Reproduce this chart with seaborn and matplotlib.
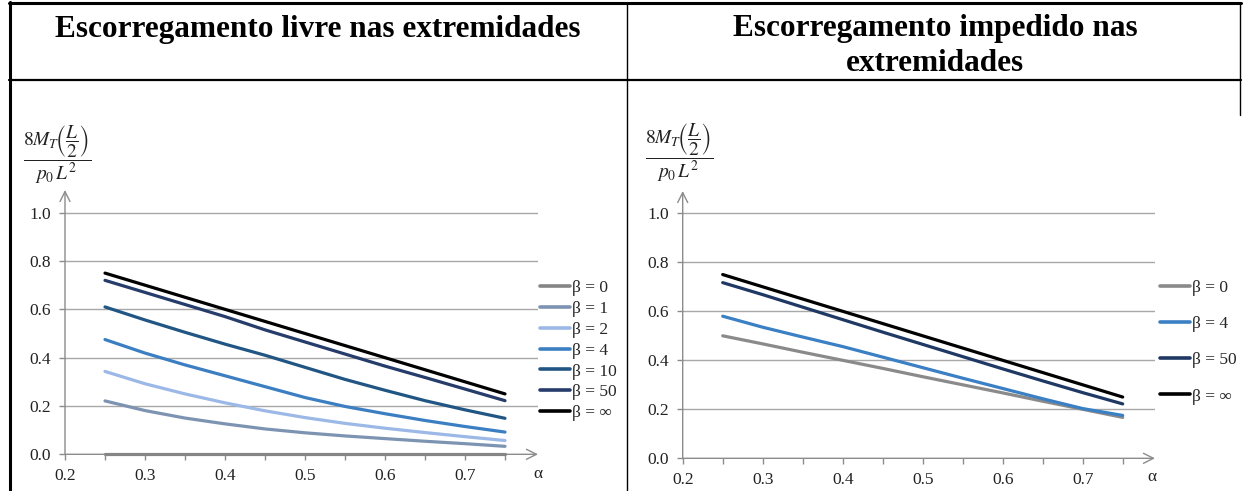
import numpy as np
import pandas as pd
import matplotlib
matplotlib.use("Agg")
import matplotlib.pyplot as plt
from matplotlib.lines import Line2D
import seaborn as sns

# ---------------- data ----------------
alpha = [0.25, 0.30, 0.35, 0.40, 0.45, 0.50, 0.55, 0.60, 0.65, 0.70, 0.75]

left_labels = ["β = 0", "β = 1", "β = 2", "β = 4", "β = 10", "β = 50", "β = ∞"]
left_b0 = [0.0, 0.0, 0.0, 0.0, 0.0, 0.0, 0.0, 0.0, 0.0, 0.0, 0.0]
left_b1 = [0.221, 0.181, 0.150, 0.126, 0.105, 0.089, 0.076, 0.065, 0.054, 0.044, 0.033]
left_b2 = [0.343, 0.292, 0.250, 0.213, 0.180, 0.152, 0.128, 0.108, 0.090, 0.073, 0.057]
left_b4 = [0.475, 0.419, 0.370, 0.325, 0.280, 0.235, 0.198, 0.168, 0.140, 0.115, 0.092]
left_b10 = [0.610, 0.556, 0.505, 0.456, 0.410, 0.360, 0.310, 0.265, 0.222, 0.184, 0.149]
left_b50 = [0.720, 0.670, 0.620, 0.570, 0.515, 0.465, 0.415, 0.365, 0.318, 0.270, 0.222]
left_binf = [0.750, 0.700, 0.650, 0.600, 0.550, 0.500, 0.450, 0.400, 0.350, 0.300, 0.250]

right_labels = ["β = 0", "β = 4", "β = 50", "β = ∞"]
right_b0 = [0.500, 0.467, 0.433, 0.400, 0.367, 0.333, 0.300, 0.267, 0.233, 0.200, 0.167]
right_b4 = [0.580, 0.535, 0.495, 0.456, 0.413, 0.370, 0.327, 0.285, 0.243, 0.203, 0.175]
right_b50 = [0.717, 0.668, 0.617, 0.566, 0.515, 0.465, 0.415, 0.365, 0.316, 0.268, 0.222]
right_binf = [0.750, 0.700, 0.650, 0.600, 0.550, 0.500, 0.450, 0.400, 0.350, 0.300, 0.250]

y_ticks = [0.0, 0.2, 0.4, 0.6, 0.8, 1.0]
x_ticks = [0.2, 0.25, 0.3, 0.35, 0.4, 0.45, 0.5, 0.55, 0.6, 0.65, 0.7, 0.75]

title_left = "Escorregamento livre nas extremidades"
title_right = "Escorregamento impedido nas\nextremidades"
ylabel_math = r"$\dfrac{8M_T\!\left(\dfrac{L}{2}\right)}{p_0\,L^2}$"

left_colors = ["#858585", "#7d93b2", "#9cb8e6", "#3b7fc2", "#215684", "#263c6a", "#000000"]
right_colors = ["#8a8a8a", "#3b80c4", "#1f3864", "#000000"]

# ---------------- style ----------------
sns.set_theme(style="white")
plt.rcParams["font.family"] = ["Liberation Serif", "DejaVu Serif"]
plt.rcParams["mathtext.fontset"] = "stix"

W, H = 1249, 491
fig = plt.figure(figsize=(W / 100, H / 100), dpi=100)


def fx(px):
    return px / W


def fy(py):
    return 1 - py / H


def make_df(series, labels):
    rows = []
    for vals, lab in zip(series, labels):
        for a, v in zip(alpha, vals):
            rows.append({"alpha": a, "val": v, "beta": lab})
    return pd.DataFrame(rows)


def setup_axes(left, right, top, y_zero_px, y_one_px, x_per01):
    ax = fig.add_axes([fx(left), fy(y_zero_px), fx(right - left), (y_zero_px - top) / H])
    unit = y_zero_px - y_one_px
    ax.set_ylim(0, (y_zero_px - top) / unit)
    ax.set_xlim(0.2, 0.2 + (right - left) / x_per01 * 0.1)
    for s in ax.spines.values():
        s.set_visible(False)
    ax.set_yticks(y_ticks)
    ax.set_yticklabels([f"{v:.1f}" for v in y_ticks])
    ax.set_xticks(x_ticks)
    ax.set_xticklabels([f"{v:.1f}" if abs(v * 10 - round(v * 10)) < 1e-6 else "" for v in x_ticks])
    ax.tick_params(axis="both", which="major", direction="out", length=4, width=1,
                   color="#8c8c8c", labelsize=12.5, labelcolor="#222222", pad=6,
                   left=True, bottom=True)
    for yv in y_ticks[1:]:
        ax.axhline(yv, color="#a8a8a8", lw=1.0, zorder=0)
    ax.annotate("", xy=(1.0, 0), xytext=(0, 0), xycoords=("axes fraction", "data"),
                arrowprops=dict(arrowstyle="->", color="#8c8c8c", lw=1.0,
                                shrinkA=0, shrinkB=0, mutation_scale=18), zorder=1)
    ax.annotate("", xy=(0.2, 1.0), xytext=(0.2, 0), xycoords=("data", "axes fraction"),
                arrowprops=dict(arrowstyle="->", color="#8c8c8c", lw=1.0,
                                shrinkA=0, shrinkB=0, mutation_scale=18), zorder=1)
    ax.set_facecolor("none")
    return ax


# ---------------- left chart ----------------
axL = setup_axes(65, 538, 190, 454.3, 212.7, 80)
dfL = make_df([left_b0, left_b1, left_b2, left_b4, left_b10, left_b50, left_binf], left_labels)
sns.lineplot(data=dfL, x="alpha", y="val", hue="beta", hue_order=left_labels,
             palette=left_colors, linewidth=2.3, ax=axL, legend=True, clip_on=False)
hL, lL = axL.get_legend_handles_labels()
axL.get_legend().remove()
for h in hL:
    h.set_linewidth(2.6)
fig.legend(hL, lL, loc="upper left", bbox_to_anchor=(fx(540), fy(280)), frameon=False,
           fontsize=12.5, handlelength=1.75, handletextpad=0.1, labelspacing=0.27,
           borderpad=0, borderaxespad=0)
axL.set_xlabel("")
axL.set_ylabel("")
fig.text(fx(538), fy(474), "α", ha="center", va="center", fontsize=12.5, color="#222222")
fig.text(fx(57), fy(155), ylabel_math, ha="center", va="center", fontsize=14, color="#222222")

# ---------------- right chart ----------------
axR = setup_axes(682.7, 1155, 191, 458.3, 213.3, 80)
dfR = make_df([right_b0, right_b4, right_b50, right_binf], right_labels)
sns.lineplot(data=dfR, x="alpha", y="val", hue="beta", hue_order=right_labels,
             palette=right_colors, linewidth=2.3, ax=axR, legend=True)
hR, lR = axR.get_legend_handles_labels()
axR.get_legend().remove()
for h in hR:
    h.set_linewidth(2.6)
fig.legend(hR, lR, loc="upper left", bbox_to_anchor=(fx(1160), fy(280)), frameon=False,
           fontsize=12.5, handlelength=1.75, handletextpad=0.1, labelspacing=1.15,
           borderpad=0, borderaxespad=0)
axR.set_xlabel("")
axR.set_ylabel("")
fig.text(fx(1152), fy(477), "α", ha="center", va="center", fontsize=12.5, color="#222222")
fig.text(fx(679), fy(153), ylabel_math, ha="center", va="center", fontsize=14, color="#222222")

# ---------------- table frame & titles ----------------
def hline(y, x0, x1, lw):
    fig.add_artist(Line2D([fx(x0), fx(x1)], [fy(y), fy(y)], color="black", lw=lw))


def vline(x, y0, y1, lw):
    fig.add_artist(Line2D([fx(x), fx(x)], [fy(y0), fy(y1)], color="black", lw=lw))


hline(3, 9, 1241, 2.2)
hline(80, 9, 1241, 1.6)
vline(10, 2, 491, 2.2)
vline(627, 3, 491, 1.0)
vline(1240, 3, 115, 1.0)

fig.text(fx(318), fy(29), title_left, ha="center", va="center", fontsize=22.5,
         fontweight="bold", color="black")
fig.text(fx(935), fy(46), title_right, ha="center", va="center", fontsize=22.5,
         fontweight="bold", color="black", linespacing=1.25)

fig.savefig("out.png", dpi=100)
